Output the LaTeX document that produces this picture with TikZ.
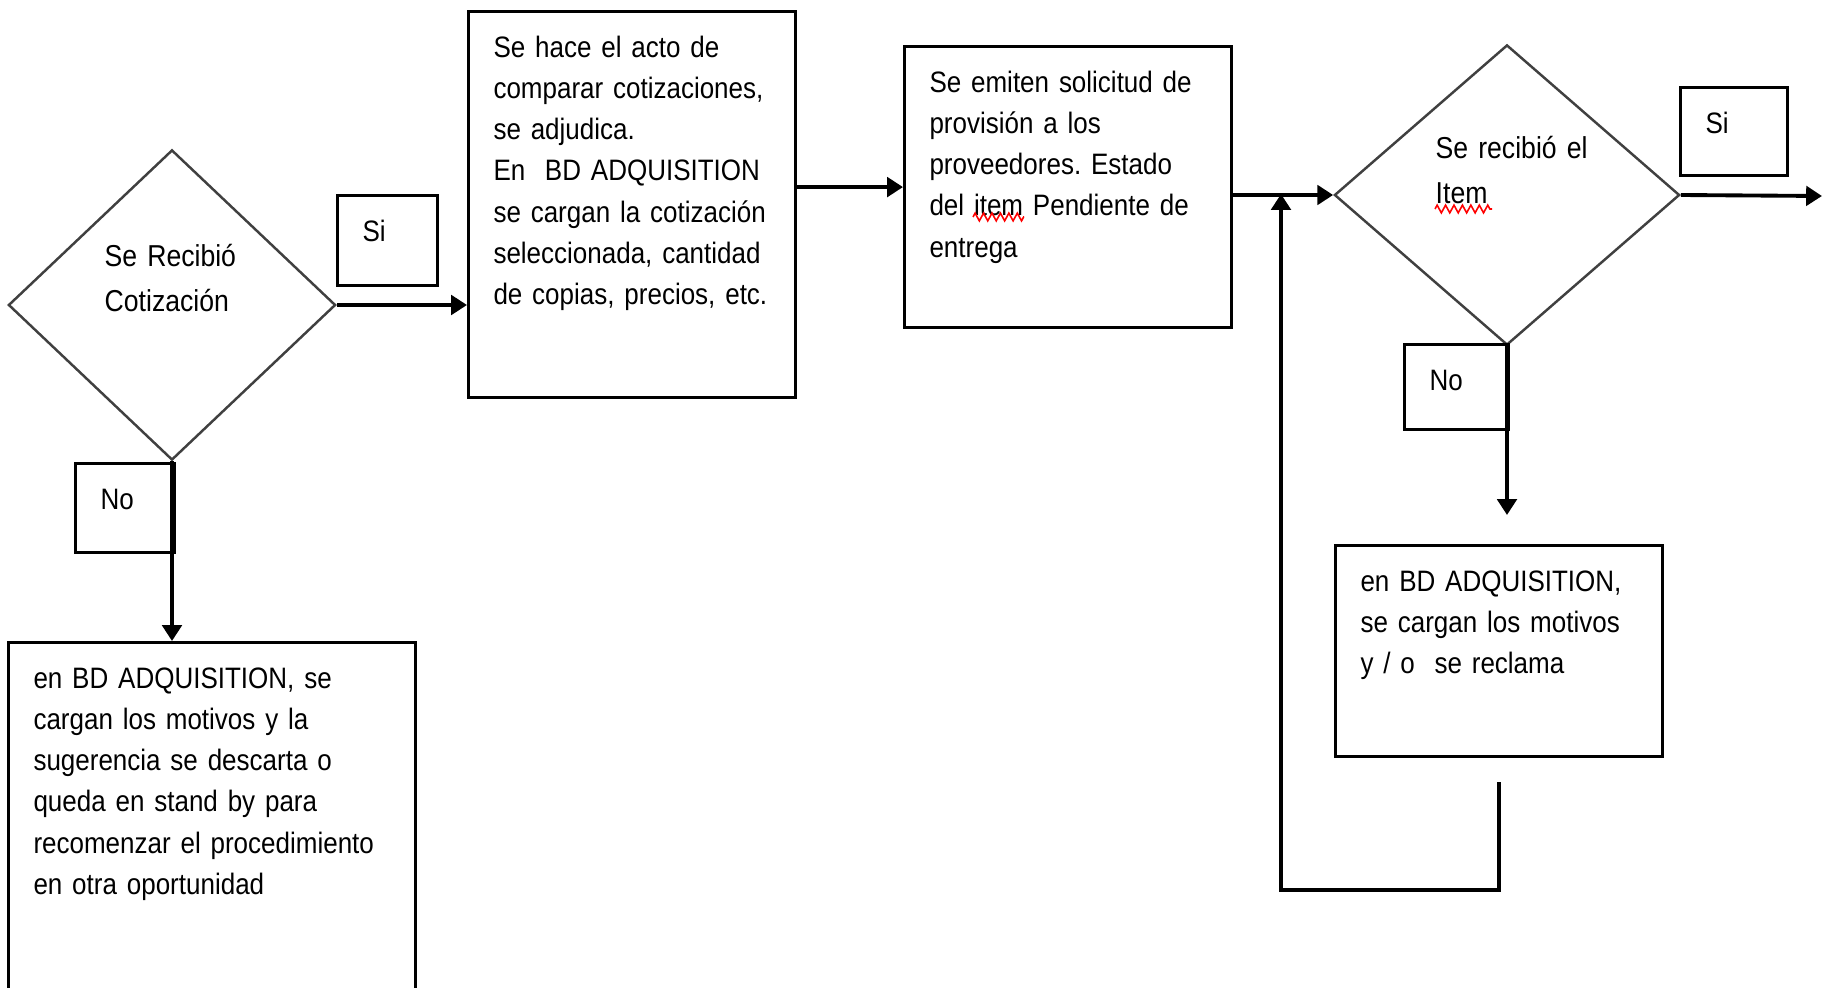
\documentclass[tikz,border=0pt]{standalone}
\usepackage{fontspec}
\setmainfont{Liberation Sans}[FakeStretch=0.88]
\usetikzlibrary{shapes.geometric}
\usetikzlibrary{arrows.meta}
\usetikzlibrary{decorations.pathmorphing}
\frenchspacing
\tikzstyle{decision} = [diamond, draw=black!75, line width=0.7pt, minimum width=3.27cm, minimum height=3.1cm, inner sep=0pt]
\tikzstyle{stage} = [rectangle, draw=black, line width=0.85pt, anchor=north west, align=left, inner xsep=0.25cm, inner ysep=0.18cm, text height=0.28cm, font=\fontsize{8.4}{11.7}\selectfont]
\tikzstyle{qtext} = [anchor=north west, align=left, inner sep=0pt, text height=0.23cm, font=\fontsize{8.6}{12.6}\selectfont]
\tikzstyle{flow} = [line width=1.1pt, -{Triangle[length=4.5pt,width=5.5pt]}]
\tikzstyle{squiggle} = [red, line width=0.45pt, decorate, decoration={zigzag, segment length=2.4pt, amplitude=1.1pt}]

\begin{document}
\begin{tikzpicture}[x=0.01cm, y=-0.01cm]
\useasboundingbox (0,0) rectangle (1827,988);

% first decision
\node (dec1) [decision] at (172,305) {};
\node (dec1txt) [qtext, text width=1.6cm] at (104,243) {Se Recibió\\Cotización};
\node (si1) [stage, text width=0.5cm, text depth=0.26cm] at (336,194) {Si};
\node (no1) [stage, text width=0.49cm, text depth=0.25cm] at (74,462) {No};

\node (adjud) [stage, text width=2.77cm, text depth=3.22cm] at (467,10) {Se hace el acto de\\comparar cotizaciones,\\se adjudica.\\En~ BD ADQUISITION\\se cargan la cotización\\seleccionada, cantidad\\de copias, precios, etc.};
\node (descarte) [stage, text width=3.57cm, text depth=3.0cm] at (7,641) {en BD ADQUISITION, se\\cargan los motivos y la\\sugerencia se descarta o\\queda en stand by para\\recomenzar el procedimiento\\en otra oportunidad};

\node (solic) [stage, text width=2.77cm, text depth=2.17cm] at (903,45) {Se emiten solicitud de\\provisión a los\\proveedores. Estado\\del item Pendiente de\\entrega};

% second decision
\node (dec2) [decision, minimum width=3.45cm, minimum height=3.0cm] at (1507,195) {};
\node (dec2txt) [qtext, text width=1.6cm] at (1435,135) {Se recibió el\\Item};
\node (si2) [stage, text width=0.57cm, text depth=0.24cm] at (1679,86) {Si};
\node (no2) [stage, text width=0.54cm, text depth=0.21cm] at (1403,343) {No};
\node (reclamo) [stage, text width=2.77cm, text depth=1.47cm] at (1334,544) {en BD ADQUISITION,\\se cargan los motivos\\y / o~ se reclama};

\coordinate (exit) at (1822,196);
\coordinate (join) at (1281,194);

\draw[flow] (dec1.east) -- (dec1.east -| adjud.west);
\draw[flow] (dec1.south) -- (dec1.south |- descarte.north);
\draw[flow] (solic.west -| adjud.east) -- (solic.west);
\draw[flow] (dec2.west -| solic.east) -- (dec2.west);
\draw[flow] (dec2.east) -- (exit);
\draw[flow, shorten >=0.29cm] (dec2.south) -- (dec2.south |- reclamo.north);
\draw[flow, shorten <=0.24cm] (reclamo.south) -- ++(0,132) -| (join);

% spelling marks
\draw[squiggle] (973,217) -- (1024,217);
\draw[squiggle] (1435,209) -- (1492,209);

\end{tikzpicture}
\end{document}
